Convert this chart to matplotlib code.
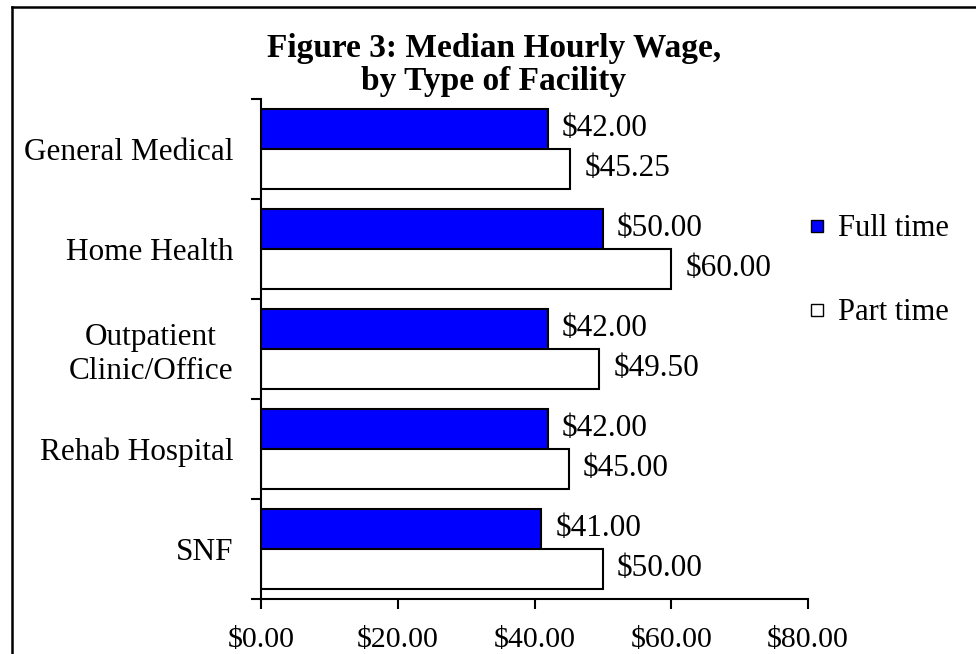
import matplotlib
matplotlib.use("Agg")
import matplotlib.pyplot as plt
from matplotlib.lines import Line2D
import numpy as np

categories = ["General Medical", "Home Health", "Outpatient\nClinic/Office",
              "Rehab Hospital", "SNF"]
full_time = [42.00, 50.00, 42.00, 42.00, 41.00]
part_time = [45.25, 60.00, 49.50, 45.00, 50.00]
xticks = [0, 20, 40, 60, 80]
title_line1 = "Figure 3: Median Hourly Wage,"
title_line2 = "by Type of Facility"
series_names = ["Full time", "Part time"]
series_colors = ["#0000FF", "white"]

FONT = "Liberation Serif"
plt.rcParams['font.family'] = [FONT, 'DejaVu Serif']

W, H = 976, 654
fig = plt.figure(figsize=(W / 100, H / 100), dpi=100)
ax = fig.add_axes([261 / W, (H - 599) / H, (808 - 261) / W, (599 - 99) / H])

y = np.arange(len(categories))
bh = 0.4
b1 = ax.barh(y - bh / 2, full_time, height=bh, color=series_colors[0],
             edgecolor="black", linewidth=1.5, label=series_names[0])
b2 = ax.barh(y + bh / 2, part_time, height=bh, color=series_colors[1],
             edgecolor="black", linewidth=1.5, label=series_names[1])
ax.bar_label(b1, labels=[f"${v:.2f}" for v in full_time], padding=10, fontsize=22.5)
ax.bar_label(b2, labels=[f"${v:.2f}" for v in part_time], padding=10, fontsize=22.5)

ax.set_xlim(0, 80)
ax.set_ylim(len(categories) - 0.5, -0.5)
ax.set_xticks(xticks)
ax.set_xticklabels([f"${v:.2f}" for v in xticks], fontsize=21.5)
ax.set_yticks(np.arange(len(categories) + 1) - 0.5)
ax.set_yticklabels([])
ax.set_yticks(y, minor=True)
ax.set_yticklabels(categories, minor=True, fontsize=22.5)
for lab in ax.get_yticklabels(minor=True):
    lab.set_multialignment("center")
ax.tick_params(axis="y", which="minor", length=0, pad=20)
ax.tick_params(axis="y", which="major", length=7, width=1.5, direction="out")
ax.tick_params(axis="x", length=7, width=1.5, direction="out", pad=13)
for s in ["top", "right"]:
    ax.spines[s].set_visible(False)
for s in ["left", "bottom"]:
    ax.spines[s].set_linewidth(1.5)

fig.text(494 / W, 1 - 57 / H, title_line1, ha="center", va="baseline",
         fontsize=24, fontweight="bold")
fig.text(494 / W, 1 - 90 / H, title_line2, ha="center", va="baseline",
         fontsize=24, fontweight="bold")

proxies = [Line2D([], [], linestyle="none", marker="s", markersize=9,
                  markerfacecolor=c, markeredgecolor="black",
                  markeredgewidth=1.0, label=n)
           for c, n in zip(series_colors, series_names)]
leg = fig.legend(handles=proxies, loc="upper left",
                 bbox_to_anchor=(783 / W, 1 - 187 / H), frameon=False,
                 fontsize=22, handlelength=0.45, handletextpad=0.45,
                 labelspacing=1.8)

fig.add_artist(Line2D([12 / W, 1.0], [1 - 7 / H, 1 - 7 / H], color="black",
                      linewidth=1.8, transform=fig.transFigure))
fig.add_artist(Line2D([12 / W, 12 / W], [1 - 7 / H, 0.0], color="black",
                      linewidth=1.8, transform=fig.transFigure))

fig.savefig("out.png", dpi=100)
